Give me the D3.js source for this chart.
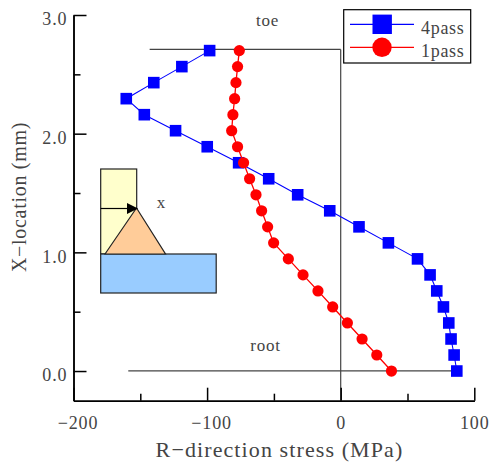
<!DOCTYPE html>
<html>
<head>
<meta charset="utf-8">
<script src="https://d3js.org/d3.v7.min.js"></script>
<style>
html, body { margin: 0; padding: 0; background: #fff; }
svg { display: block; }
text { font-family: "Liberation Serif", serif; fill: #444; }
.axis text { font-size: 18px; letter-spacing: 0.9px; fill: #444; }
.axis path, .axis line { stroke: #000; stroke-width: 1.5; }
</style>
</head>
<body>
<script>
var width = 491;
var height = 463;

// data
var xLocation = [0, 0.135, 0.27, 0.405, 0.54, 0.675, 0.81, 0.945, 1.08, 1.215, 1.35,
                 1.485, 1.62, 1.755, 1.89, 2.025, 2.16, 2.295, 2.43, 2.565, 2.7];
var pass4 = [86.9, 84.9, 82.6, 80.9, 76.9, 71.9, 66.9, 57.5, 35.7, 13.7, -8.2,
             -32.2, -53.9, -76.4, -99.9, -123.6, -147, -160.5, -139.9, -118.9, -98.1];
var pass1 = [38, 27, 16, 5, -6, -17, -28.2, -39.2, -50.2, -54.7, -59.2,
             -63.4, -68.2, -72.7, -77.2, -81.6, -80.7, -79.4, -78.4, -77.2, -75.9];
var xMajor = [-200, -100, 0, 100];
var xMinor = [-150, -50, 50];
var yMajor = [0, 1, 2, 3];
var yMinor = [0.5, 1.5, 2.5];
var seriesNames = ["4pass", "1pass"];
var seriesColors = ["#0000ff", "#ff0000"];

var svg = d3.select("body").append("svg")
    .attr("width", width)
    .attr("height", height);

var x = d3.scaleLinear().domain([-200, 100]).range([73.5, 474.3]);
var y = d3.scaleLinear().domain([-0.25, 3]).range([400.7, 15]);

// sketch of the weld joint
var inset = svg.append("g").attr("stroke", "#222").attr("stroke-width", 1.2);
inset.append("rect").attr("x", 100.7).attr("y", 169).attr("width", 36).attr("height", 85).attr("fill", "#ffffcc");
inset.append("rect").attr("x", 100.7).attr("y", 254).attr("width", 115.5).attr("height", 39).attr("fill", "#99ccff");
inset.append("polygon").attr("points", "105,254 136.5,208 165.5,254").attr("fill", "#ffcc99");
inset.append("line").attr("x1", 100.7).attr("x2", 128).attr("y1", 208.5).attr("y2", 208.5).attr("stroke", "#000");
inset.append("polygon").attr("points", "127,203 138,208.5 127,214").attr("fill", "#000").attr("stroke", "none");
svg.append("text").attr("x", 161).attr("y", 208).attr("text-anchor", "middle").style("font-size", "17px").text("x");

// guide lines at toe, root and zero stress
var guides = svg.append("g").attr("stroke", "#444").attr("stroke-width", 1.2);
guides.append("line").attr("x1", x(-143)).attr("x2", x(0)).attr("y1", y(2.71)).attr("y2", y(2.71));
guides.append("line").attr("x1", x(0)).attr("x2", x(0)).attr("y1", y(2.71)).attr("y2", y(-0.25));
guides.append("line").attr("x1", x(-159)).attr("x2", x(87)).attr("y1", y(0.002)).attr("y2", y(0.002));

// axes, ticks point inward
svg.append("g").attr("class", "axis")
    .attr("transform", "translate(0," + y(-0.25) + ")")
    .call(d3.axisBottom(x).tickValues(xMinor).tickSizeInner(-7).tickSizeOuter(0).tickFormat(""));
var xAxisMajor = svg.append("g").attr("class", "axis")
    .attr("transform", "translate(0," + y(-0.25) + ")")
    .call(d3.axisBottom(x).tickValues(xMajor).tickSizeInner(-13).tickSizeOuter(0).tickPadding(16)
        .tickFormat(function (d) { return String(d).replace("-", "\u2212"); }));
// the minus sign pushes negative labels a bit right in the original
xAxisMajor.selectAll("text").attr("dx", function (d) { return d < 0 ? 4 : 0; });
svg.append("g").attr("class", "axis")
    .attr("transform", "translate(" + x(-200) + ",0)")
    .call(d3.axisLeft(y).tickValues(yMinor).tickSizeInner(-7).tickSizeOuter(0).tickFormat(""));
var yAxisMajor = svg.append("g").attr("class", "axis")
    .attr("transform", "translate(" + x(-200) + ",0)")
    .call(d3.axisLeft(y).tickValues(yMajor).tickSizeInner(-13).tickSizeOuter(0).tickPadding(6).tickFormat(d3.format(".1f")));
// labels sit a little below their ticks
yAxisMajor.selectAll("text").attr("y", 4);

// series
var line = d3.line()
    .x(function (d) { return x(d[0]); })
    .y(function (d) { return y(d[1]); });

var rows4 = d3.zip(pass4, xLocation);
var rows1 = d3.zip(pass1, xLocation);

svg.append("path").datum(rows4).attr("d", line).attr("fill", "none")
    .attr("stroke", seriesColors[0]).attr("stroke-width", 1.1);
svg.selectAll(".sq").data(rows4).enter().append("rect")
    .attr("class", "sq")
    .attr("x", function (d) { return x(d[0]) - 5.8; })
    .attr("y", function (d) { return y(d[1]) - 5.8; })
    .attr("width", 11.6)
    .attr("height", 11.6)
    .attr("fill", seriesColors[0]);

svg.append("path").datum(rows1).attr("d", line).attr("fill", "none")
    .attr("stroke", seriesColors[1]).attr("stroke-width", 1.3);
svg.selectAll(".dot").data(rows1).enter().append("circle")
    .attr("class", "dot")
    .attr("cx", function (d) { return x(d[0]); })
    .attr("cy", function (d) { return y(d[1]); })
    .attr("r", 5.6)
    .attr("fill", seriesColors[1]);

// labels
svg.append("text").attr("x", 267.5).attr("y", 26).attr("text-anchor", "middle")
    .style("font-size", "17px").style("letter-spacing", "0.8px").text("toe");
svg.append("text").attr("x", 265.5).attr("y", 351).attr("text-anchor", "middle")
    .style("font-size", "17px").style("letter-spacing", "0.8px").text("root");
svg.append("text").attr("x", 279.5).attr("y", 457).attr("text-anchor", "middle")
    .style("font-size", "22px").style("letter-spacing", "1.1px").text("R\u2212direction stress (MPa)");
svg.append("text").attr("transform", "translate(26,197) rotate(-90)").attr("text-anchor", "middle")
    .style("font-size", "20px").style("letter-spacing", "0.7px").text("X\u2212location (mm)");

// legend
var legend = svg.append("g");
legend.append("rect").attr("x", 343.7).attr("y", 9.7).attr("width", 127).attr("height", 53.3)
    .attr("fill", "#fff").attr("stroke", "#000").attr("stroke-width", 1.2);
seriesNames.forEach(function (name, i) {
    var ly = 24.3 + i * 23;
    legend.append("line").attr("x1", 350).attr("x2", 414).attr("y1", ly).attr("y2", ly)
        .attr("stroke", seriesColors[i]).attr("stroke-width", 1.2);
    if (i === 0) {
        legend.append("rect").attr("x", 372.5).attr("y", ly - 9.7).attr("width", 19.4).attr("height", 19.4)
            .attr("fill", seriesColors[i]);
    } else {
        legend.append("circle").attr("cx", 382).attr("cy", ly).attr("r", 9.7).attr("fill", seriesColors[i]);
    }
    legend.append("text").attr("x", 421).attr("y", 34 + i * 23)
        .style("font-size", "18px").style("letter-spacing", "0.7px").text(name);
});
</script>
</body>
</html>
